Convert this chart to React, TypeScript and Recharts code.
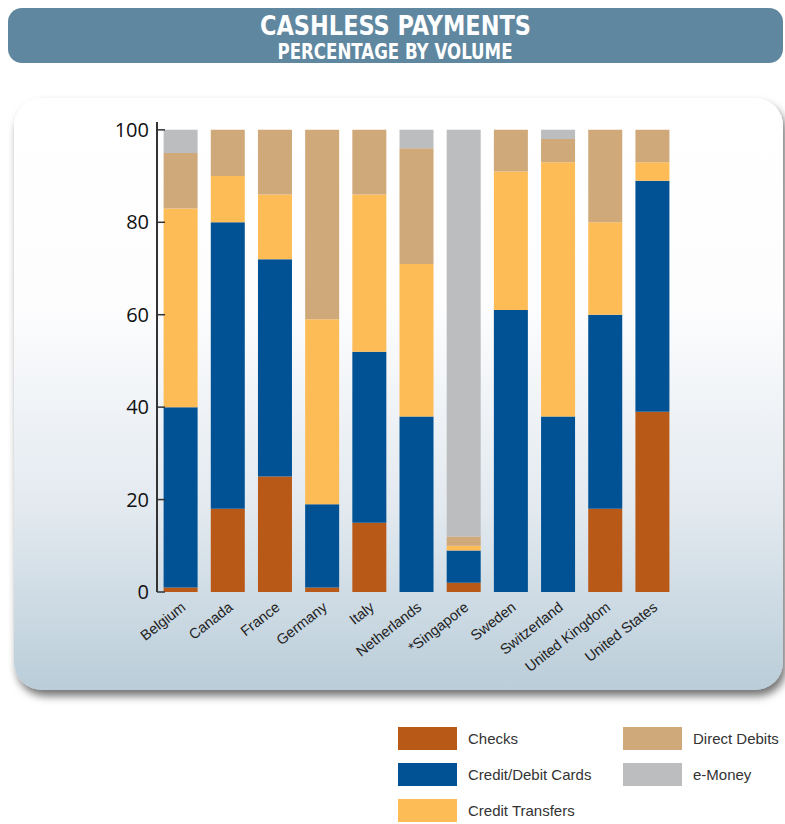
import React from 'react';
import { BarChart, Bar, XAxis, YAxis, Legend } from 'recharts';

const countries = ['Belgium', 'Canada', 'France', 'Germany', 'Italy', 'Netherlands', '*Singapore', 'Sweden', 'Switzerland', 'United Kingdom', 'United States'];
const checks = [1, 18, 25, 1, 15, 0, 2, 0, 0, 18, 39];
const cards = [39, 62, 47, 18, 37, 38, 7, 61, 38, 42, 50];
const creditTransfers = [43, 10, 14, 40, 34, 33, 1, 30, 55, 20, 4];
const directDebits = [12, 10, 14, 41, 14, 25, 2, 9, 5, 20, 7];
const eMoney = [5, 0, 0, 0, 0, 4, 88, 0, 2, 0, 0];
const yTicks = [0, 20, 40, 60, 80, 100];

const seriesNames = ['Checks', 'Credit/Debit Cards', 'Credit Transfers', 'Direct Debits', 'e-Money'];
const seriesKeys = ['checks', 'cards', 'creditTransfers', 'directDebits', 'eMoney'];
const seriesColors = ['#b95918', '#015294', '#fdbc56', '#cfa979', '#bcbdbf'];

const data = countries.map((c, i) => ({
  country: c,
  checks: checks[i],
  cards: cards[i],
  creditTransfers: creditTransfers[i],
  directDebits: directDebits[i],
  eMoney: eMoney[i],
}));

const XTick = (props: any) => {
  const { x, y, payload } = props;
  return (
    <g transform={`translate(${x + 6},${y + 17})`}>
      <text
        x={0}
        y={0}
        textAnchor="end"
        transform="rotate(-38)"
        fontSize={14.5}
        fontFamily="'Liberation Sans', Arial, sans-serif"
        fill="#222"
      >
        {payload.value}
      </text>
    </g>
  );
};

const renderLegend = (props: any) => {
  const payload = (props.payload || []).slice().sort(
    (a: any, b: any) => seriesNames.indexOf(a.value) - seriesNames.indexOf(b.value)
  );
  return (
    <div
      style={{
        display: 'grid',
        gridTemplateColumns: '225px 170px',
        gridTemplateRows: 'repeat(3, 36px)',
        gridAutoFlow: 'column',
        fontFamily: "'Liberation Sans', Arial, sans-serif",
        fontSize: 15,
        color: '#333',
      }}
    >
      {payload.map((p: any) => (
        <div key={p.value} style={{ display: 'flex', alignItems: 'center', height: 23 }}>
          <span style={{ display: 'inline-block', width: 59, height: 23, background: p.color, marginRight: 11 }} />
          <span>{p.value}</span>
        </div>
      ))}
    </div>
  );
};

export default function App() {
  return (
    <div style={{ position: 'absolute', left: 0, top: 0, width: 785, height: 824, background: '#fff', overflow: 'hidden' }}>
      <svg width={785} height={824} style={{ position: 'absolute', left: 0, top: 0 }}>
        <defs>
          <linearGradient id="pg" x1="0" y1="0" x2="0" y2="1">
            <stop offset="0" stopColor="#ffffff" />
            <stop offset="0.35" stopColor="#fdfdfe" />
            <stop offset="0.7" stopColor="#e2e9ef" />
            <stop offset="1" stopColor="#bacdd9" />
          </linearGradient>
          <filter id="sh" x="-5%" y="-5%" width="115%" height="120%">
            <feDropShadow dx="3" dy="6" stdDeviation="4" floodColor="#000" floodOpacity="0.55" />
          </filter>
        </defs>
        <rect x={8} y={8} width={775} height={55} rx={14} fill="#5f87a0" />
        <text
          x={395.5}
          y={35}
          textAnchor="middle"
          fontFamily="'Liberation Sans Narrow','DejaVu Sans Condensed',sans-serif"
          fontWeight="bold"
          fontSize={27}
          fill="#fff"
          textLength={271}
          lengthAdjust="spacingAndGlyphs"
        >
          CASHLESS PAYMENTS
        </text>
        <text
          x={395}
          y={59}
          textAnchor="middle"
          fontFamily="'Liberation Sans Narrow','DejaVu Sans Condensed',sans-serif"
          fontWeight="bold"
          fontSize={22}
          fill="#fff"
          textLength={235}
          lengthAdjust="spacingAndGlyphs"
        >
          PERCENTAGE BY VOLUME
        </text>
        <rect x={14} y={98} width={769} height={592} rx={28} fill="url(#pg)" filter="url(#sh)" />
      </svg>
      <div style={{ position: 'absolute', left: 0, top: 0 }}>
        <BarChart
          width={785}
          height={824}
          data={data}
          margin={{ top: 122, right: 109, bottom: 132, left: 97 }}
          barCategoryGap="14%"
        >
          <XAxis
            dataKey="country"
            axisLine={false}
            tickLine={false}
            tickSize={0}
            tickMargin={0}
            height={100}
            interval={0}
            tick={<XTick />}
          />
          <YAxis
            type="number"
            domain={[0, 101.7]}
            ticks={yTicks}
            width={60}
            axisLine={{ stroke: '#333', strokeWidth: 2 }}
            tickLine={{ stroke: '#333', strokeWidth: 1.5 }}
            tickSize={-8}
            tickMargin={16}
            tick={{ fontSize: 20, fill: '#111', fontFamily: "'Open Sans', sans-serif" }}
          />
          {seriesKeys.map((k, i) => (
            <Bar key={k} dataKey={k} name={seriesNames[i]} stackId="a" fill={seriesColors[i]} isAnimationActive={false} />
          ))}
          <Legend
            layout="vertical"
            align="center"
            verticalAlign="middle"
            content={renderLegend}
            wrapperStyle={{ left: 398, top: 727, width: 395 }}
          />
        </BarChart>
      </div>
    </div>
  );
}
